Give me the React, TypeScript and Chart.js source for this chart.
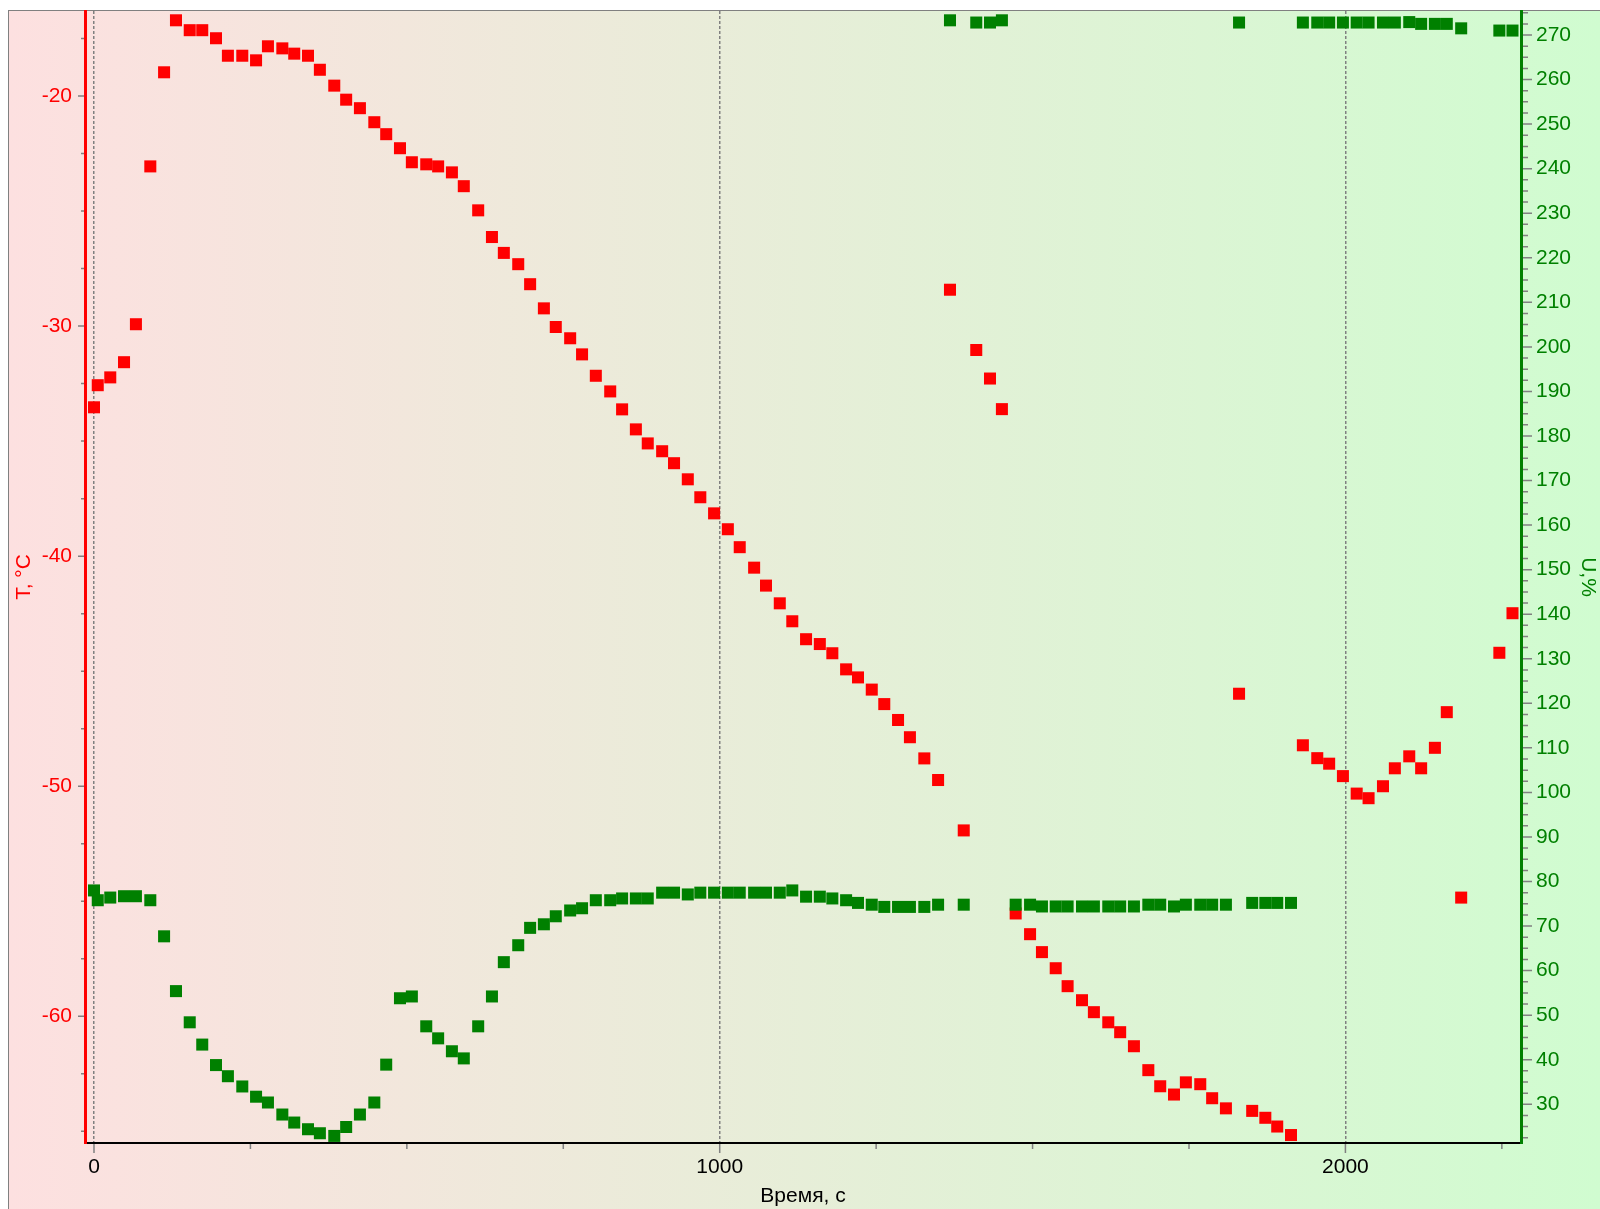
import React, { useEffect, useRef } from 'react';
import { Chart, registerables } from 'chart.js';

Chart.register(...registerables);

// ---- data (time, s) ----
const timeS = [
  0, 6, 26, 48, 67, 90, 112, 131, 153, 173,
  195, 214, 237, 259, 278, 301, 320, 342, 361, 384,
  403, 425, 448, 467, 489, 508, 531, 550, 572, 591,
  614, 636, 655, 678, 697, 719, 738, 761, 780, 802,
  825, 844, 866, 885, 908, 927, 949, 969, 991, 1013,
  1032, 1055, 1074, 1096, 1116, 1138, 1160, 1180, 1202, 1221,
  1243, 1263, 1285, 1304, 1327, 1349, 1368, 1390, 1410, 1432,
  1451, 1473, 1496, 1515, 1537, 1556, 1579, 1598, 1621, 1640,
  1662, 1685, 1704, 1726, 1745, 1768, 1787, 1809, 1830, 1851,
  1872, 1891, 1913, 1932, 1955, 1974, 1996, 2018, 2037, 2060,
  2079, 2102, 2121, 2143, 2162, 2185, 2246, 2267,
];

// Temperature, °C
const temperatureC = [
  -33.53, -32.57, -32.23, -31.57, -29.92, -23.06, -18.97, -16.71, -17.14, -17.14,
  -17.49, -18.25, -18.25, -18.45, -17.84, -17.93, -18.16, -18.25, -18.86, -19.55,
  -20.16, -20.53, -21.14, -21.66, -22.27, -22.88, -22.97, -23.06, -23.32, -23.92,
  -24.97, -26.13, -26.82, -27.31, -28.18, -29.23, -30.04, -30.53, -31.23, -32.16,
  -32.84, -33.62, -34.49, -35.10, -35.44, -35.96, -36.66, -37.44, -38.14, -38.83,
  -39.61, -40.50, -41.28, -42.05, -42.83, -43.61, -43.82, -44.22, -44.92, -45.27,
  -45.80, -46.43, -47.12, -47.87, -48.79, -49.73, -28.42, -51.92, -31.04, -32.28,
  -33.61, -55.53, -56.43, -57.21, -57.91, -58.69, -59.30, -59.82, -60.26, -60.69,
  -61.30, -62.34, -63.04, -63.40, -62.87, -62.95, -63.56, -64.00, -45.98, -64.11,
  -64.41, -64.79, -65.16, -48.22, -48.78, -49.02, -49.56, -50.32, -50.52, -50.00,
  -49.22, -48.70, -49.22, -48.33, -46.78, -54.84, -44.20, -42.48,
];

// Humidity U, %
const humidityPct = [
  78.0, 75.8, 76.4, 76.7, 76.7, 75.8, 67.7, 55.4, 48.4, 43.4,
  38.8, 36.3, 34.0, 31.7, 30.4, 27.7, 25.9, 24.4, 23.5, 22.9,
  24.9, 27.7, 30.4, 38.9, 53.8, 54.2, 47.5, 44.8, 41.9, 40.3,
  47.5, 54.2, 61.9, 65.7, 69.6, 70.4, 72.2, 73.5, 74.0, 75.8,
  75.8, 76.2, 76.2, 76.2, 77.5, 77.5, 77.1, 77.5, 77.5, 77.5,
  77.5, 77.5, 77.5, 77.5, 78.0, 76.6, 76.6, 76.2, 75.8, 75.2,
  74.8, 74.3, 74.3, 74.3, 74.3, 74.8, 273.3, 74.8, 272.8, 272.8,
  273.3, 74.8, 74.8, 74.4, 74.4, 74.4, 74.4, 74.4, 74.4, 74.4,
  74.4, 74.8, 74.8, 74.4, 74.8, 74.8, 74.8, 74.8, 272.8, 75.2,
  75.2, 75.2, 75.2, 272.8, 272.8, 272.8, 272.8, 272.8, 272.8, 272.8,
  272.8, 272.9, 272.5, 272.5, 272.5, 271.5, 271.0, 271.0,
];

// ---- axes ----
const xLabelValues = [0, 1000, 2000];
const xMinorStep = 250;
const X_MIN = -14.38;
const X_MAX = 2280.6;

const tLabelValues = [-60, -50, -40, -30, -20];
const tMinorStep = 2.5;
const T_MIN = -65.506;
const T_MAX = -16.306;

const uLabelValues = [30, 40, 50, 60, 70, 80, 90, 100, 110, 120, 130, 140, 150, 160, 170, 180, 190, 200, 210, 220, 230, 240, 250, 260, 270];
const uMinorStep = 2.5;
const U_MIN = 21.31;
const U_MAX = 275.39;

const FONT_FAMILY = "Arial, 'Liberation Sans', sans-serif";
const RED = '#ff0000';
const GREEN = '#008000';
const TICK_GRAY = '#808080';

function stepValues(min: number, max: number, step: number): number[] {
  const out: number[] = [];
  const start = Math.ceil(min / step) * step;
  for (let v = start; v <= max + 1e-9; v += step) out.push(Math.round(v * 100) / 100);
  return out;
}
const isLabel = (arr: number[], v: number) => arr.some((a) => Math.abs(a - v) < 1e-6);

const tickMarksPlugin = {
  id: 'tickMarks',
  beforeDatasetsDraw(chart: any) {
    const { ctx, chartArea, scales } = chart;
    ctx.save();
    ctx.strokeStyle = TICK_GRAY;
    ctx.lineWidth = 1.5;
    ctx.beginPath();
    const xs = scales.x;
    xs.ticks.forEach((t: any) => {
      const p = xs.getPixelForValue(t.value);
      const len = isLabel(xLabelValues, t.value) ? 9 : 5;
      ctx.moveTo(p, chartArea.bottom + 1);
      ctx.lineTo(p, chartArea.bottom + 1 + len);
    });
    const ts = scales.yT;
    ts.ticks.forEach((t: any) => {
      const p = ts.getPixelForValue(t.value);
      const len = isLabel(tLabelValues, t.value) ? 6 : 3;
      ctx.moveTo(chartArea.left - 1, p);
      ctx.lineTo(chartArea.left - 1 - len, p);
    });
    const us = scales.yU;
    us.ticks.forEach((t: any) => {
      const p = us.getPixelForValue(t.value);
      const len = isLabel(uLabelValues, t.value) ? 9 : 5;
      ctx.moveTo(chartArea.right + 2, p);
      ctx.lineTo(chartArea.right + 2 + len, p);
    });
    ctx.stroke();
    ctx.restore();
  },
};

const font = { family: FONT_FAMILY, size: 21 };

export default function App() {
  const canvasRef = useRef<HTMLCanvasElement | null>(null);

  useEffect(() => {
    if (!canvasRef.current) return;
    const greenPts = timeS.map((t, i) => ({ x: t, y: humidityPct[i] }));
    const redPts = timeS.map((t, i) => ({ x: t, y: temperatureC[i] }));

    const chart = new Chart(canvasRef.current, {
      type: 'scatter',
      data: {
        datasets: [
          {
            label: 'U,%',
            data: greenPts,
            yAxisID: 'yU',
            pointStyle: 'rect',
            pointRadius: 8.5,
            pointBorderWidth: 0,
            backgroundColor: GREEN,
            borderColor: GREEN,
            showLine: false,
            order: 0,
          },
          {
            label: 'T, °C',
            data: redPts,
            yAxisID: 'yT',
            pointStyle: 'rect',
            pointRadius: 8.5,
            pointBorderWidth: 0,
            backgroundColor: RED,
            borderColor: RED,
            showLine: false,
            order: 1,
          },
        ],
      },
      options: {
        responsive: false,
        maintainAspectRatio: false,
        devicePixelRatio: 1,
        animation: false,
        events: [],
        layout: { padding: { top: 11, left: 0, right: 0, bottom: 0 } },
        plugins: { legend: { display: false }, tooltip: { enabled: false }, title: { display: false } },
        scales: {
          x: {
            type: 'linear',
            position: 'bottom',
            min: X_MIN,
            max: X_MAX,
            bounds: 'data',
            afterBuildTicks: (s: any) => {
              s.ticks = stepValues(X_MIN, X_MAX, xMinorStep).map((v) => ({ value: v }));
            },
            afterFit: (s: any) => {
              s.height = 66;
              s.paddingLeft = 0; s.paddingRight = 0; s.paddingTop = 0; s.paddingBottom = 0;
            },
            ticks: {
              autoSkip: false,
              maxRotation: 0,
              minRotation: 0,
              padding: 12,
              color: '#000000',
              font,
              callback: (v: any) => (isLabel(xLabelValues, Number(v)) ? String(v) : ''),
            },
            grid: {
              display: true,
              drawOnChartArea: true,
              drawTicks: false,
              lineWidth: 1.5,
              color: (c: any) => (c.tick && isLabel(xLabelValues, c.tick.value) ? TICK_GRAY : 'rgba(0,0,0,0)'),
            },
            border: { display: true, color: '#000000', width: 2, dash: [3, 2] },
            title: { display: true, text: 'Время, с', color: '#000000', font, padding: { top: 0, bottom: 0 } },
          },
          yT: {
            type: 'linear',
            position: 'left',
            min: T_MIN,
            max: T_MAX,
            bounds: 'data',
            afterBuildTicks: (s: any) => {
              s.ticks = stepValues(T_MIN, T_MAX, tMinorStep).map((v) => ({ value: v }));
            },
            afterFit: (s: any) => {
              s.width = 85;
              s.paddingLeft = 0; s.paddingRight = 0; s.paddingTop = 0; s.paddingBottom = 0;
            },
            ticks: {
              autoSkip: false,
              padding: 13,
              color: RED,
              font,
              callback: (v: any) => (isLabel(tLabelValues, Number(v)) ? String(v) : ''),
            },
            grid: { display: true, drawOnChartArea: false, drawTicks: false, color: 'rgba(0,0,0,0)' },
            border: { display: true, color: RED, width: 3 },
            title: { display: true, text: 'T, °C', color: RED, font, padding: { top: 12, bottom: 0 } },
          },
          yU: {
            type: 'linear',
            position: 'right',
            min: U_MIN,
            max: U_MAX,
            bounds: 'data',
            afterBuildTicks: (s: any) => {
              s.ticks = stepValues(U_MIN, U_MAX, uMinorStep).map((v) => ({ value: v }));
            },
            afterFit: (s: any) => {
              s.width = 79;
              s.paddingLeft = 0; s.paddingRight = 0; s.paddingTop = 0; s.paddingBottom = 0;
            },
            ticks: {
              autoSkip: false,
              padding: 15,
              color: GREEN,
              font,
              callback: (v: any) => (isLabel(uLabelValues, Number(v)) ? String(v) : ''),
            },
            grid: { display: true, drawOnChartArea: false, drawTicks: false, color: 'rgba(0,0,0,0)' },
            border: { display: true, color: GREEN, width: 3 },
            title: { display: true, text: 'U,%', color: GREEN, font, padding: { top: 0, bottom: 0 } },
          },
        },
      } as any,
      plugins: [tickMarksPlugin],
    });
    return () => chart.destroy();
  }, []);

  return (
    <>
      <div
        style={{
          position: 'fixed',
          left: 8,
          top: 10,
          right: 0,
          bottom: 0,
          borderLeft: '1px solid #808080',
          borderTop: '1px solid #808080',
          background: 'linear-gradient(to right, #fde0e0, #d0fcd0)',
        }}
      />
      <canvas
        ref={canvasRef}
        width={1600}
        height={1209}
        style={{ position: 'fixed', left: 0, top: 0, width: 1600, height: 1209 }}
      />
    </>
  );
}
